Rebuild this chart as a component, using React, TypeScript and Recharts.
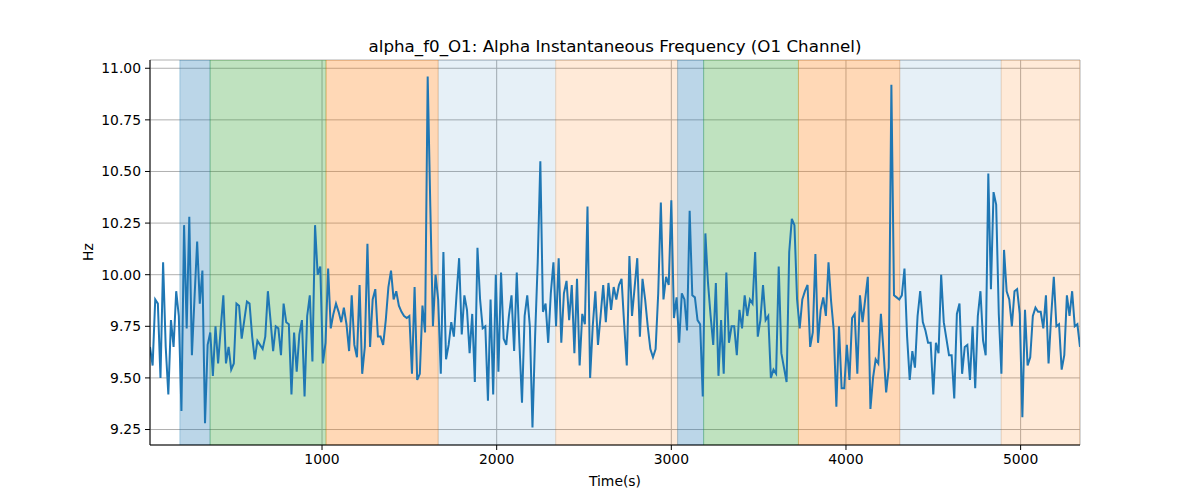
import React from 'react';
import { ComposedChart, Line, XAxis, YAxis, CartesianGrid, ReferenceArea } from 'recharts';

// Alpha instantaneous frequency (Hz), one sample every 15 s
const hzValues: number[] = [
  9.65, 9.56, 9.88, 9.86, 9.50, 10.06, 9.65, 9.42, 9.78, 9.65, 9.92, 9.80, 9.34, 10.24, 9.74, 10.28,
  9.61, 9.89, 10.16, 9.86, 10.02, 9.28, 9.66, 9.72, 9.51, 9.75, 9.57, 9.74, 9.90, 9.57, 9.65, 9.54,
  9.57, 9.86, 9.85, 9.69, 9.78, 9.87, 9.86, 9.70, 9.59, 9.68, 9.66, 9.64, 9.70, 9.92,
  9.78, 9.63, 9.75, 9.74, 9.61, 9.86, 9.77, 9.76, 9.42, 9.72, 9.53, 9.71, 9.78, 9.41, 9.80, 9.90,
  9.58, 10.24, 10.00, 10.04, 9.57, 9.67, 10.03, 9.74, 9.81, 9.86, 9.82, 9.77, 9.84, 9.76, 9.63, 9.90,
  9.66, 9.60, 9.95, 9.52, 9.65, 10.15, 9.65, 9.88, 9.93, 9.70, 9.70, 9.66,
  9.78, 9.94, 10.02, 9.88, 9.92, 9.85, 9.82, 9.80, 9.79, 9.80, 9.52, 9.94, 9.49, 9.52, 9.85, 9.72,
  10.96, 10.33, 9.75, 10.00, 9.88, 9.52, 10.11, 9.59, 9.66, 9.77, 9.70, 9.90, 10.08, 9.71, 9.90, 9.83,
  9.62, 9.81, 9.48, 10.13, 9.88, 9.74, 9.75, 9.39, 9.88, 9.42, 10.00, 9.53, 10.01,
  9.69, 9.66, 9.80, 9.90, 9.63, 10.01, 9.67, 9.38, 9.80, 9.90, 9.75, 9.26, 9.70, 10.06, 10.55, 9.82,
  9.86, 9.67, 9.91, 10.06, 9.75, 10.08, 9.67, 9.91, 9.97, 9.78, 9.95, 9.62, 9.98, 9.56, 9.81, 9.76,
  10.33, 9.50, 9.75, 9.92, 9.66, 9.80, 9.95, 9.77, 9.96, 9.83, 9.94, 9.88, 9.95,
  9.98, 9.76, 9.56, 10.09, 9.80, 9.94, 10.08, 9.70, 9.98, 9.88, 9.75, 9.64, 9.60, 9.64, 9.91, 10.35,
  9.88, 9.99, 9.95, 10.36, 9.79, 9.89, 9.67, 9.91, 9.88, 9.73, 10.31, 9.90, 9.89, 9.78, 9.76, 9.41,
  10.20, 9.96, 9.80, 9.66, 9.96, 9.51, 9.78, 9.52, 10.01, 9.67, 9.75, 9.75, 9.61,
  9.83, 9.74, 9.90, 9.80, 9.88, 9.86, 10.11, 9.70, 9.78, 9.95, 9.78, 9.80, 9.50, 9.54, 9.52, 10.04,
  9.62, 9.55, 9.48, 10.11, 10.27, 10.24, 9.88, 9.74, 9.88, 9.92, 9.95, 9.65, 9.72, 10.10, 9.67, 9.83,
  9.89, 9.80, 10.06, 9.87, 9.73, 9.36, 9.75, 9.45, 9.45, 9.66, 9.49, 9.79,
  9.81, 9.52, 9.90, 9.77, 9.88, 9.99, 9.35, 9.50, 9.59, 9.57, 9.81, 9.63, 9.43, 9.55, 10.92, 9.90,
  9.89, 9.88, 9.90, 10.03, 9.70, 9.49, 9.63, 9.55, 9.80, 9.92, 9.77, 9.73, 9.67, 9.67, 9.42, 9.67,
  9.62, 10.00, 9.77, 9.69, 9.61, 9.61, 9.40, 9.81, 9.86, 9.52, 9.65, 9.66, 9.49,
  9.75, 9.45, 9.80, 9.92, 9.68, 9.61, 10.49, 9.93, 10.40, 10.34, 9.81, 9.52, 10.12, 9.92, 9.88, 9.75,
  9.92, 9.93, 9.81, 9.31, 9.83, 9.56, 9.60, 9.80, 9.84, 9.82, 9.82, 9.74, 9.90, 9.57, 9.80, 9.99,
  9.75, 9.76, 9.54, 9.61, 9.90, 9.80, 9.92, 9.75, 9.76, 9.65,
];

const FIRST_TIME = 15;
const SAMPLE_STEP = 15;

const spanStarts = [186, 359, 1023, 1665, 2338, 3036, 3185, 3728, 4308, 4889];
const spanEnds = [359, 1023, 1665, 2338, 3036, 3185, 3728, 4308, 4889, 5340];
const spanKinds = ['blue', 'green', 'orange', 'lightblue', 'lightorange', 'blue', 'green', 'orange', 'lightblue', 'lightorange'];

const xTicks = [1000, 2000, 3000, 4000, 5000];
const yTicks = [9.25, 9.5, 9.75, 10.0, 10.25, 10.5, 10.75, 11.0];

const X_DOMAIN: [number, number] = [15, 5340];
const Y_DOMAIN: [number, number] = [9.175, 11.04];

const kindStyle: Record<string, { color: string; opacity: number }> = {
  blue: { color: '#1f77b4', opacity: 0.3 },
  green: { color: '#2ca02c', opacity: 0.3 },
  orange: { color: '#ff7f0e', opacity: 0.3 },
  lightblue: { color: '#1f77b4', opacity: 0.11 },
  lightorange: { color: '#ff7f0e', opacity: 0.16 },
};

const data = hzValues.map((v, i) => ({ t: FIRST_TIME + i * SAMPLE_STEP, hz: v }));

const FONT = '"DejaVu Sans", Verdana, sans-serif';
const tickStyle = { fill: '#000', fontSize: 13.9, fontFamily: FONT };

export default function App() {
  return (
    <div style={{ position: 'absolute', left: 0, top: 0, width: 1200, height: 500, background: '#fff' }}>
      <div
        style={{
          position: 'absolute', left: 150, top: 36, width: 930, textAlign: 'center',
          fontFamily: FONT, fontSize: 16.7, lineHeight: '20px', color: '#000',
        }}
      >
        alpha_f0_O1: Alpha Instantaneous Frequency (O1 Channel)
      </div>
      <ComposedChart width={1200} height={500} data={data} margin={{ top: 60, right: 120, bottom: 20, left: 90 }}>
        {spanStarts.map((s, i) => {
          const st = kindStyle[spanKinds[i]];
          return (
            <ReferenceArea
              key={i}
              x1={s}
              x2={spanEnds[i]}
              fill={st.color}
              fillOpacity={st.opacity}
              stroke={st.color}
              strokeOpacity={st.opacity}
              strokeWidth={1}
              ifOverflow="hidden"
            />
          );
        })}
        <CartesianGrid stroke="#b0b0b0" strokeWidth={1} />
        <XAxis
          dataKey="t"
          type="number"
          domain={X_DOMAIN}
          ticks={xTicks}
          allowDataOverflow
          height={35}
          tick={tickStyle}
          tickSize={5}
          tickMargin={4}
          tickLine={{ stroke: '#000' }}
          axisLine={{ stroke: '#000' }}
        />
        <XAxis
          xAxisId="top"
          orientation="top"
          type="number"
          domain={X_DOMAIN}
          height={0}
          tick={false}
          tickLine={false}
          axisLine={{ stroke: '#000' }}
        />
        <YAxis
          type="number"
          domain={Y_DOMAIN}
          ticks={yTicks}
          allowDataOverflow
          width={60}
          tick={tickStyle}
          tickSize={5}
          tickMargin={4}
          tickFormatter={(v: number) => v.toFixed(2)}
          tickLine={{ stroke: '#000' }}
          axisLine={{ stroke: '#000' }}
        />
        <YAxis
          yAxisId="right"
          orientation="right"
          type="number"
          domain={Y_DOMAIN}
          width={0}
          tick={false}
          tickLine={false}
          axisLine={{ stroke: '#000' }}
        />
        <Line
          type="linear"
          dataKey="hz"
          stroke="#1f77b4"
          strokeWidth={2}
          dot={false}
          activeDot={false}
          isAnimationActive={false}
        />
      </ComposedChart>
      <div
        style={{
          position: 'absolute', left: 150, top: 473, width: 930, textAlign: 'center',
          fontFamily: FONT, fontSize: 13.9, lineHeight: '16px', color: '#000',
        }}
      >
        Time(s)
      </div>
      <div
        style={{
          position: 'absolute', left: 38, top: 244, width: 100, textAlign: 'center',
          fontFamily: FONT, fontSize: 13.9, lineHeight: '16px', color: '#000',
          transform: 'rotate(-90deg)',
        }}
      >
        Hz
      </div>
    </div>
  );
}
